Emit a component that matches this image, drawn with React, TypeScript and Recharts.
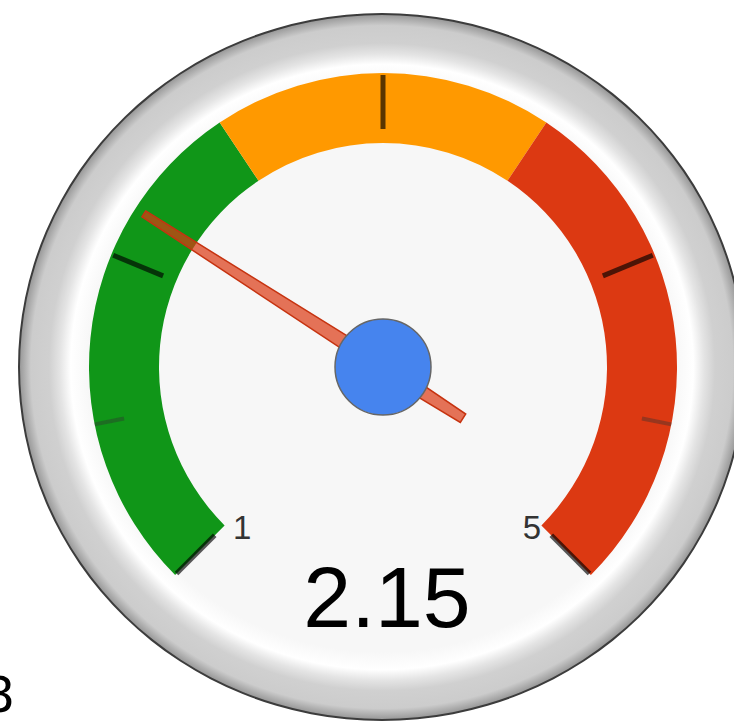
import React from 'react';
import { PieChart, Pie, Cell } from 'recharts';

// gauge scale
const minValue = 1;
const maxValue = 5;
const gaugeValue = 2.15;

// colour bands
const bandNames = ['low', 'mid', 'high'];
const bandFrom = [1, 2.5, 3.5];
const bandTo = [2.5, 3.5, 5];
const bandColors = ['#109618', '#ff9900', '#dc3912'];

// ticks
const majorTicks = [1, 2, 3, 4, 5];
const minorTicks = [1.5, 4.5];
const tickLabels = ['1', '', '', '', '5'];

const W = 734;
const H = 726;
const CX = 383;
const CY = 367;
const START = 225;
const END = -45;
const R_IN = 224;
const R_OUT = 294;
const RAD = Math.PI / 180;

const bandData = bandNames.map((name, i) => ({ name, value: bandTo[i] - bandFrom[i] }));

const angleOf = (v: number) => START + ((v - minValue) / (maxValue - minValue)) * (END - START);
const pt = (v: number, r: number) => {
  const a = angleOf(v) * RAD;
  return { x: CX + r * Math.cos(a), y: CY - r * Math.sin(a) };
};

const Overlay = () => {
  const a = angleOf(gaugeValue) * RAD;
  const ux = Math.cos(a);
  const uy = -Math.sin(a);
  const px = -uy;
  const py = ux;
  const np = (u: number, v: number) => `${CX + u * ux + v * px},${CY + u * uy + v * py}`;
  const needle = [np(284, 3.5), np(0, 7.5), np(-95, 5), np(-95, -5), np(0, -7.5), np(284, -3.5)].join(' ');

  return (
    <svg width={W} height={H} style={{ position: 'absolute', left: 0, top: 0, pointerEvents: 'none' }}>
      {majorTicks.map((t) => {
        const p1 = pt(t, R_OUT - 2);
        const p2 = pt(t, R_IN + 14);
        return <line key={`M${t}`} x1={p1.x} y1={p1.y} x2={p2.x} y2={p2.y} stroke="#000" strokeOpacity={0.65} strokeWidth={5} />;
      })}
      {minorTicks.map((t) => {
        const p1 = pt(t, R_OUT);
        const p2 = pt(t, R_OUT - 30);
        return <line key={`m${t}`} x1={p1.x} y1={p1.y} x2={p2.x} y2={p2.y} stroke="#333" strokeOpacity={0.4} strokeWidth={4} />;
      })}
      {majorTicks.map((t, i) => {
        if (!tickLabels[i]) return null;
        const p = pt(t, 215);
        const left = t === minValue;
        return (
          <text key={`l${t}`} x={left ? p.x + 2 : p.x + 6} y={p.y + 20} textAnchor={left ? 'start' : 'end'}
            fontSize={33} fontFamily="Liberation Sans, Arial, sans-serif" fill="#333">
            {tickLabels[i]}
          </text>
        );
      })}
      <polygon points={needle} fill="#dc3912" fillOpacity={0.7} stroke="#c63310" strokeWidth={1.5} />
      <circle cx={CX} cy={CY} r={48} fill="#4684ee" stroke="#666" strokeWidth={1.5} />
      <text x={CX + 4} y={627} textAnchor="middle" fontSize={86} fontFamily="Liberation Sans, Arial, sans-serif" fill="#000">
        {gaugeValue}
      </text>
      <text x={-17} y={712} fontSize={50} fontFamily="DejaVu Sans, sans-serif" fill="#000">8</text>
    </svg>
  );
};

export default function App() {
  return (
    <div style={{ position: 'absolute', left: 0, top: 0, width: W, height: H, overflow: 'hidden', background: '#fff' }}>
      <div
        style={{
          position: 'absolute',
          left: 18,
          top: 13,
          width: 728,
          height: 708,
          boxSizing: 'border-box',
          borderRadius: '50%',
          border: '2px solid #3c3c3c',
          background:
            'radial-gradient(ellipse closest-side at 50% 50%, #f7f7f7 0%, #f7f7f7 81%, #ffffff 86%, #e4e4e4 89%, #d0d0d0 92%, #cccccc 97%, #9a9a9a 100%)',
        }}
      />
      <div style={{ position: 'absolute', left: 0, top: 0 }}>
        <PieChart width={W} height={H} margin={{ top: 0, right: 0, bottom: 0, left: 0 }}>
          <Pie
            data={bandData}
            dataKey="value"
            cx={CX}
            cy={CY}
            innerRadius={R_IN}
            outerRadius={R_OUT}
            startAngle={START}
            endAngle={END}
            stroke="none"
            isAnimationActive={false}
          >
            {bandData.map((b, i) => (
              <Cell key={b.name} fill={bandColors[i]} />
            ))}
          </Pie>
        </PieChart>
      </div>
      <Overlay />
    </div>
  );
}
